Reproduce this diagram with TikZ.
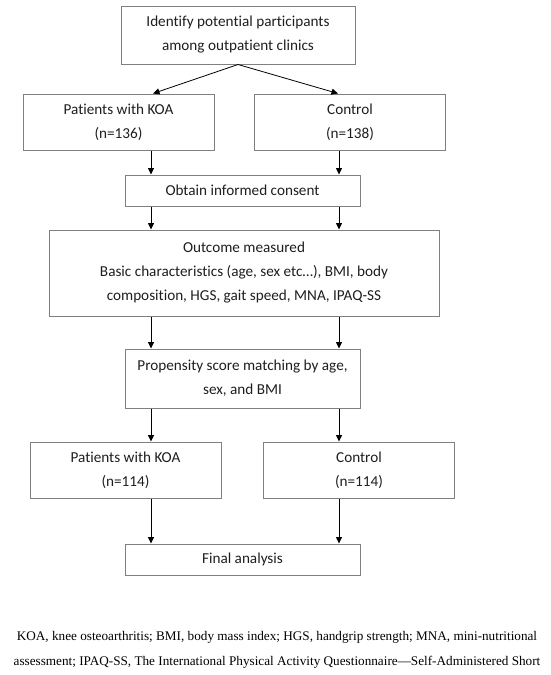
\documentclass[tikz,border=0pt]{standalone}
\usepackage{fontspec}
\setmainfont{Liberation Serif}
\newfontfamily\boxfont[Ligatures=NoCommon]{Carlito}
\usepackage{tikz}
\usetikzlibrary{arrows.meta,positioning}
\usepackage{xcolor}
\definecolor{cFrame}{RGB}{128,128,128}
\definecolor{cText}{RGB}{30,30,30}
\tikzset{
  basebox/.style={rectangle,draw=cFrame,line width=1pt,align=center,
                  text=cText,inner sep=2pt,font=\boxfont\fontsize{15.2}{24}\selectfont},
  widebox/.style={basebox,minimum width=234pt,minimum height=58pt},
  groupbox/.style={basebox,minimum width=191pt,minimum height=56pt},
  stepbox/.style={basebox,minimum width=235pt,minimum height=31pt},
  arr/.style={-{Triangle[length=6.5pt,width=6pt]},line width=0.8pt,color=black}
}

\begin{document}
\begin{tikzpicture}[x=1pt,y=-1pt]

  \useasboundingbox (0,0) rectangle (550,675);

  % arrow columns
  \coordinate (colL) at (151,0);
  \coordinate (colR) at (339,0);

  \node[widebox] (identify) at (238,35)
      {Identify potential participants\\among outpatient clinics};

  % Groups before matching
  \node[groupbox] (koaA) at (118.5,122) {Patients with KOA\\(n=136)};
  \node[groupbox] (ctrlA) at (350,122) {Control\\(n=138)};

  \node[stepbox] (consent) at (242.5,190.5) {Obtain informed consent};

  \node[basebox,minimum width=390pt,minimum height=86pt] (outcome) at (244,273)
      {Outcome measured\\Basic characteristics (age, sex etc…), BMI, body\\
       composition, HGS, gait speed, MNA, IPAQ-SS};

  \node[stepbox,minimum height=59pt] (psm) at (242.5,378.5)
      {Propensity score matching by age,\\sex, and BMI};

  % Groups after matching
  \node[groupbox] (koaB) at (125.5,470) {Patients with KOA\\(n=114)};
  \node[groupbox] (ctrlB) at (359,470) {Control\\(n=114)};

  \node[stepbox] (final) at (242.5,559.5) {Final analysis};

  % Abbreviations
  \node[font=\fontsize{13.2}{25}\selectfont,align=center,inner sep=0pt] (note) at (277,650)
      {KOA, knee osteoarthritis; BMI, body mass index; HGS, handgrip strength; MNA, mini-nutritional\\
       assessment; IPAQ-SS, The International Physical Activity Questionnaire---Self-Administered Short};

  \draw[arr] (identify.south) -- ([xshift=2pt]koaA.north -| colL);
  \draw[arr] (identify.south) -- ([xshift=-1pt]ctrlA.north -| colR);
  \draw[arr] (koaA.south -| colL) -- (consent.north -| colL);
  \draw[arr] (ctrlA.south -| colR) -- (consent.north -| colR);
  \draw[arr] (consent.south -| colL) -- (outcome.north -| colL);
  \draw[arr] (consent.south -| colR) -- (outcome.north -| colR);
  \draw[arr] (outcome.south -| colL) -- (psm.north -| colL);
  \draw[arr] (outcome.south -| colR) -- (psm.north -| colR);
  \draw[arr] (psm.south -| colL) -- (koaB.north -| colL);
  \draw[arr] (psm.south -| colR) -- (ctrlB.north -| colR);
  \draw[arr] (koaB.south -| colL) -- (final.north -| colL);
  \draw[arr] (ctrlB.south -| colR) -- (final.north -| colR);

\end{tikzpicture}
\end{document}
